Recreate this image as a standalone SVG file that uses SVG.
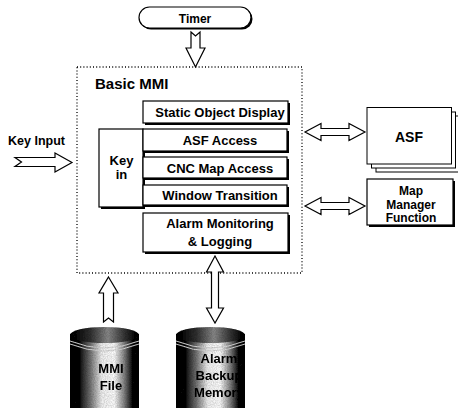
<svg xmlns="http://www.w3.org/2000/svg" width="458" height="408" viewBox="0 0 458 408">
  <style>
    text { font-family: "Liberation Sans", Arial, sans-serif; font-weight: bold; fill: #000; text-anchor: middle; }
    .lbl { font-size: 12px; }
    .blk { font-size: 13px; }
    .title { font-size: 15px; text-anchor: start; }
    .box { fill: #fff; stroke: #000; stroke-width: 1.2; }
    .shadow { fill: #000; }
    .page { fill: #fff; stroke: #000; stroke-width: 1; }
    .frame { fill: none; stroke: #000; stroke-width: 1.3; stroke-dasharray: 1 2.2; }
    .arrow { fill: #fff; stroke: #000; stroke-width: 1.2; stroke-linejoin: miter; }
    .rim { fill: none; stroke: #d8d8d8; stroke-width: 1; }
  </style>
  <defs>
    <linearGradient id="drum" x1="0" y1="0" x2="1" y2="0">
      <stop offset="0" stop-color="#000"/>
      <stop offset="0.14" stop-color="#111"/>
      <stop offset="0.3" stop-color="#777"/>
      <stop offset="0.46" stop-color="#f2f2f2"/>
      <stop offset="0.64" stop-color="#fff"/>
      <stop offset="0.78" stop-color="#888"/>
      <stop offset="0.9" stop-color="#111"/>
      <stop offset="1" stop-color="#000"/>
    </linearGradient>
    <linearGradient id="lid" x1="0" y1="0" x2="1" y2="0">
      <stop offset="0" stop-color="#000"/>
      <stop offset="0.3" stop-color="#333"/>
      <stop offset="0.55" stop-color="#8a8a8a"/>
      <stop offset="0.8" stop-color="#333"/>
      <stop offset="1" stop-color="#000"/>
    </linearGradient>
    <filter id="grain" x="0" y="0" width="1" height="1">
      <feTurbulence type="fractalNoise" baseFrequency="0.9" numOctaves="2" seed="3" result="n"/>
      <feColorMatrix in="n" type="matrix" values="0 0 0 0 0  0 0 0 0 0  0 0 0 0 0  0 0 0 0.55 -0.12" result="dots"/>
      <feComposite in="dots" in2="SourceGraphic" operator="in" result="speck"/>
      <feMerge><feMergeNode in="SourceGraphic"/><feMergeNode in="speck"/></feMerge>
    </filter>
  </defs>

  <!-- Timer source -->
  <g id="timer">
    <rect class="shadow" x="140.5" y="8.5" width="112" height="21" rx="10.5"/>
    <rect class="box" x="139" y="7" width="112" height="21" rx="10.5"/>
    <text class="lbl" x="195" y="22.5">Timer</text>
  </g>

  <!-- Key input label -->
  <g id="key-input">
    <text class="lbl" x="8" y="145" style="text-anchor:start;font-size:12.5px">Key Input</text>
  </g>

  <!-- Basic MMI frame -->
  <g id="basic-mmi">
    <rect class="frame" x="77" y="67" width="225" height="206"/>
    <text class="title" x="95" y="88.5">Basic MMI</text>
  </g>

  <g id="static-object-display">
    <rect class="shadow" x="145" y="103" width="145" height="22"/>
    <rect class="box" x="143" y="101" width="145" height="22"/>
    <text class="blk" x="220" y="117">Static Object Display</text>
  </g>

  <g id="key-in">
    <rect class="shadow" x="101" y="131" width="44" height="78"/>
    <rect class="box" x="99" y="129" width="44" height="78"/>
    <text class="blk" x="121.5" y="164.5">Key</text>
    <text class="blk" x="121.5" y="179">in</text>
  </g>

  <g id="asf-access">
    <rect class="shadow" x="145" y="131" width="144" height="22"/>
    <rect class="box" x="143" y="129" width="144" height="22"/>
    <text class="blk" x="220" y="145">ASF Access</text>
  </g>

  <g id="cnc-map-access">
    <rect class="shadow" x="145" y="159" width="144" height="21"/>
    <rect class="box" x="143" y="157" width="144" height="21"/>
    <text class="blk" x="220" y="172.5">CNC Map Access</text>
  </g>

  <g id="window-transition">
    <rect class="shadow" x="145" y="187" width="144" height="20"/>
    <rect class="box" x="143" y="185" width="144" height="20"/>
    <text class="blk" x="220" y="200">Window Transition</text>
  </g>

  <g id="alarm-monitoring">
    <rect class="shadow" x="145" y="215" width="145" height="39"/>
    <rect class="box" x="143" y="213" width="145" height="39"/>
    <text class="blk" x="220" y="228">Alarm Monitoring</text>
    <text class="blk" x="220" y="245.5">&amp; Logging</text>
  </g>

  <!-- ASF: stacked pages -->
  <g id="asf">
    <rect class="page" x="376" y="116" width="84" height="56"/>
    <rect class="page" x="371.5" y="112" width="84" height="56"/>
    <rect class="page" x="367" y="107.5" width="84.5" height="56.5"/>
    <text x="409" y="141.5" style="font-size:14px">ASF</text>
  </g>

  <g id="map-manager">
    <rect class="shadow" x="369" y="181" width="86" height="46"/>
    <rect class="box" x="367" y="179" width="86" height="46"/>
    <text class="lbl" x="411" y="195">Map</text>
    <text class="lbl" x="411" y="208.5">Manager</text>
    <text class="lbl" x="411" y="222">Function</text>
  </g>

  <!-- Storage drums -->
  <g id="mmi-file" filter="url(#grain)">
    <rect x="70" y="334" width="69" height="80" fill="url(#drum)"/>
    <ellipse cx="104.5" cy="335" rx="34.5" ry="8" fill="url(#lid)"/>
    <path class="rim" d="M70,341 Q104.5,355 139,341"/>
    <path class="rim" d="M70,344 Q104.5,358 139,344"/>
    <text class="blk" x="111" y="373">MMI</text>
    <text class="blk" x="111" y="390">File</text>
  </g>

  <g id="alarm-backup-memory" filter="url(#grain)">
    <rect x="176" y="334" width="69" height="80" fill="url(#drum)"/>
    <ellipse cx="210.5" cy="335" rx="34.5" ry="8" fill="url(#lid)"/>
    <path class="rim" d="M176,341 Q210.5,355 245,341"/>
    <path class="rim" d="M176,344 Q210.5,358 245,344"/>
    <text class="blk" x="219" y="362.5">Alarm</text>
    <text class="blk" x="219" y="379.5">Backup</text>
    <text class="blk" x="219" y="396.5">Memory</text>
  </g>

  <!-- Connectors: hollow block arrows -->
  <g id="connectors">
    <!-- Timer into Basic MMI -->
    <path class="arrow" d="M191,32 L195.5,36 L200,32 L200,48 L205,48 L195.5,67 L186,48 L191,48 Z"/>
    <!-- Key Input into Basic MMI -->
    <path class="arrow" d="M15,157.5 L55,157.5 L55,153 L72,162.5 L55,172 L55,166.5 L15,166.5 L21.5,162 Z"/>
    <!-- Basic MMI to ASF -->
    <path class="arrow" d="M305,132 L321,123.5 L321,128.5 L349,128.5 L349,123.5 L365,132 L349,140.5 L349,135.5 L321,135.5 L321,140.5 Z"/>
    <!-- Basic MMI to Map Manager Function -->
    <path class="arrow" d="M305,206 L321,197.5 L321,202.5 L349,202.5 L349,197.5 L365,206 L349,214.5 L349,209.5 L321,209.5 L321,214.5 Z"/>
    <!-- MMI File up into Basic MMI -->
    <path class="arrow" d="M108.5,277 L118,293 L113.5,293 L113.5,322 L108.5,318 L103.5,322 L103.5,293 L99,293 Z"/>
    <!-- Alarm Monitoring to Alarm Backup Memory -->
    <path class="arrow" d="M215,256 L223.5,272 L218.5,272 L218.5,308 L223.5,308 L215,323 L206.5,308 L211.5,308 L211.5,272 L206.5,272 Z"/>
  </g>
</svg>
